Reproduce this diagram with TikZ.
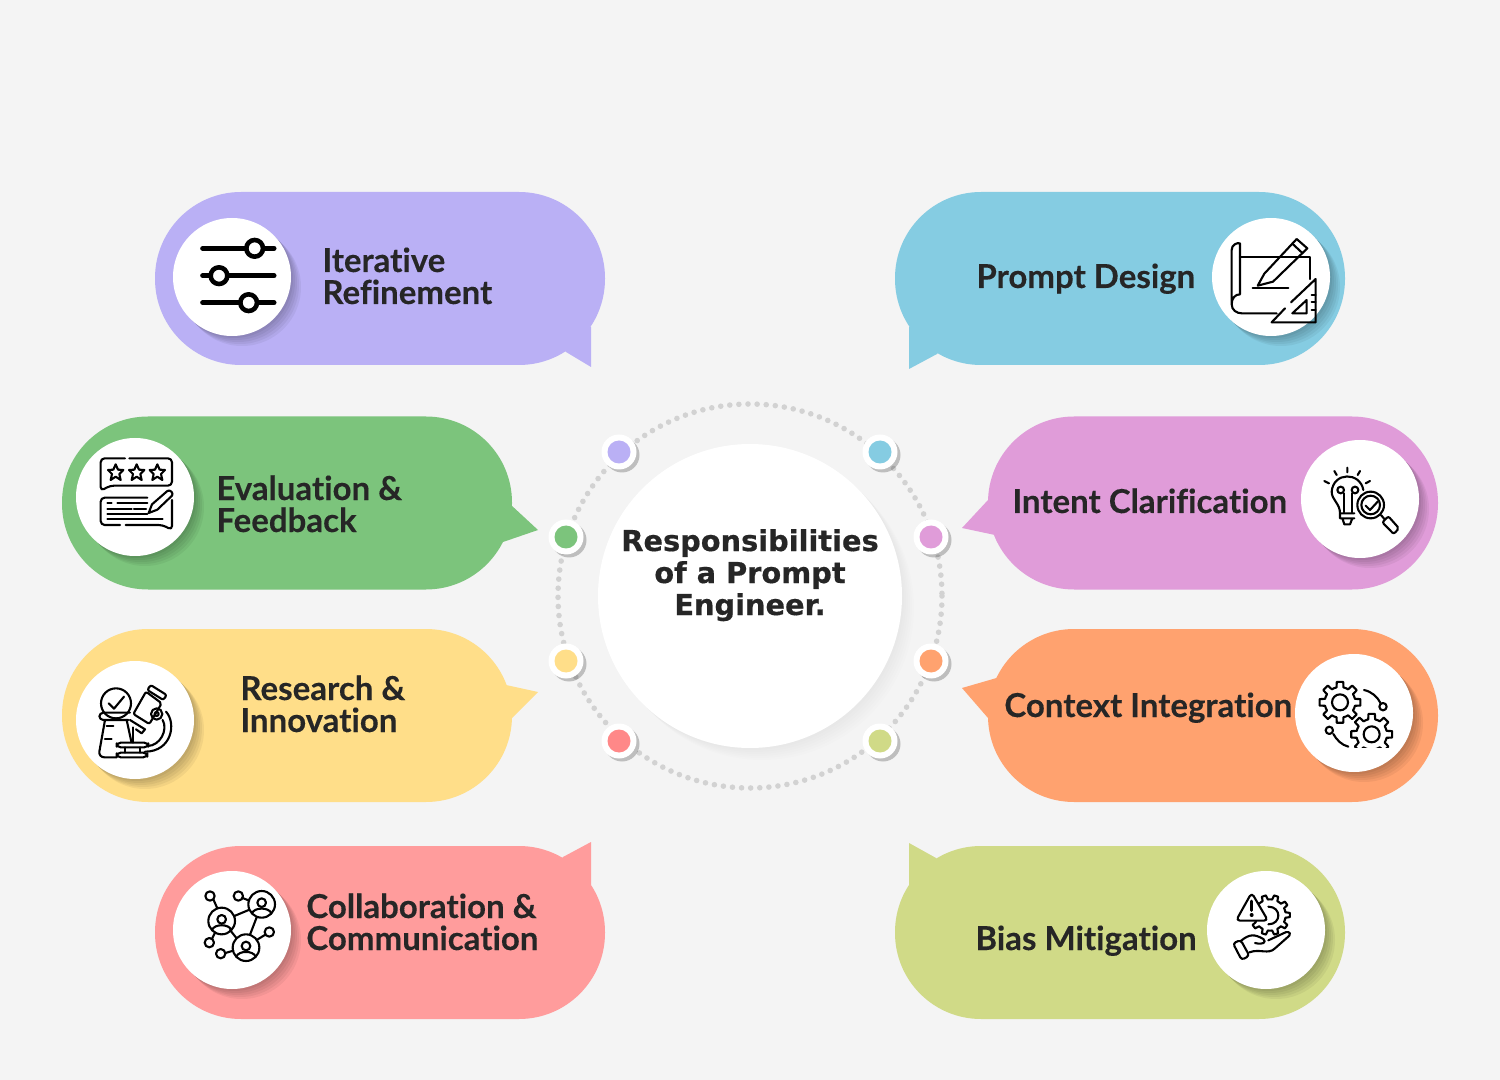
\documentclass[tikz,border=0pt]{standalone}
\usepackage{fontspec}
\usepackage{xcolor}
\usetikzlibrary{positioning}
\setmainfont{Lato}[Ligatures=CommonOff,BoldFeatures={FakeBold=0.25}]
\newfontfamily\titlefont{DejaVu Sans}[BoldFeatures={FakeBold=0.5}]
\definecolor{pagebg}{HTML}{F4F4F4}
\definecolor{inkc}{HTML}{262626}
\definecolor{ringc}{HTML}{D2D2D2}
\definecolor{lavc}{HTML}{BAB0F5}
\definecolor{skyc}{HTML}{85CCE2}
\definecolor{leafc}{HTML}{7CC47C}
\definecolor{mauvc}{HTML}{E09CD9}
\definecolor{sandc}{HTML}{FFDE89}
\definecolor{tangc}{HTML}{FFA26F}
\definecolor{rosec}{HTML}{FF9C9C}
\definecolor{redc}{HTML}{FF8888}
\definecolor{olivc}{HTML}{D0DA87}
\tikzset{
  softlayer/.style={preaction={fill=black,opacity=0.05,transform canvas={shift={(#1,-#1)}}}},
  bubble/.style={minimum width=225pt,minimum height=86.5pt,rounded corners=43pt,inner sep=0pt},
  bubbletext/.style={anchor=base west,inner sep=0pt,align=left,text=inkc,
    font=\fontsize{16.5}{16}\selectfont\bfseries},
  icondisc/.style={circle,fill=white,minimum size=59pt,inner sep=0pt,
    softlayer=1pt,softlayer=2pt,softlayer=3pt,softlayer=4pt,softlayer=5pt},
  ringdot/.style={circle,fill=white,minimum size=17.5pt,inner sep=0pt,
    preaction={fill=black,opacity=0.22,transform canvas={shift={(1.5pt,-1.5pt)}}}},
  ringcore/.style={circle,minimum size=11.5pt,inner sep=0pt},
  iconline/.style={draw=black,line width=1.05pt,line cap=round,line join=round},
  cropunits/.style={x=0.16667pt,y=-0.16667pt}
}
\newcommand{\gearoutline}[6]{% centre x, y, outer r, inner r, half tooth, teeth step
  \draw[iconline,fill=white] (#1,#2)+(-#6/2:#4)
    \foreach \a in {0,#6,...,359} {
      -- +(\a-#5-2:#4) -- +(\a-#5+2:#3) -- +(\a+#5-2:#3) -- +(\a+#5+2:#4) -- +(\a+#6/2:#4)
    } -- cycle;
}
\newcommand{\personmark}[2]{% centre of the big circle
  \draw[iconline] (#1,#2) circle (40);
  \draw[iconline] (#1,#2-5) circle (13);
  \draw[iconline] (#1-29,#2+27) .. controls (#1-22,#2+8) and (#1+22,#2+8) .. (#1+29,#2+27);
}
\begin{document}
\begin{tikzpicture}[x=0.5pt,y=-0.5pt]

\useasboundingbox (0,0) rectangle (1500,1080);
\fill[pagebg] (0,0) rectangle (1500,1080);

%% ── Ring and centre ──────────────────────────────────────────────────────────
\coordinate (hub) at (750,596);
\draw[ringc,line width=2.8pt,line cap=round,dash pattern=on 0pt off 4.56pt] (hub) circle (192);

\foreach \s in {1,2,...,6}
  \fill[black,opacity=0.007] (750+\s*2,596+\s*2) circle (152);
\node[circle,fill=white,minimum size=152pt,inner sep=0pt] (hubdisc) at (hub) {};
\node[anchor=base,inner sep=0pt,align=center,text=inkc,
  font=\titlefont\fontsize{14.4}{16}\selectfont\bfseries] (hubtext) at (750,615)
  {Responsibilities\\of a Prompt\\Engineer.};

\node[ringdot] (lavdot)  at (619,452) {};
\node[ringdot] (skydot)  at (880,452) {};
\node[ringdot] (leafdot) at (566,537) {};
\node[ringdot] (mauvdot) at (931,537) {};
\node[ringdot] (sanddot) at (566,661) {};
\node[ringdot] (tangdot) at (931,661) {};
\node[ringdot] (reddot)  at (619,741) {};
\node[ringdot] (olivdot) at (880,741) {};
\node[ringcore,fill=lavc]  at (lavdot)  {};
\node[ringcore,fill=skyc]  at (skydot)  {};
\node[ringcore,fill=leafc] at (leafdot) {};
\node[ringcore,fill=mauvc] at (mauvdot) {};
\node[ringcore,fill=sandc] at (sanddot) {};
\node[ringcore,fill=tangc] at (tangdot) {};
\node[ringcore,fill=redc]  at (reddot)  {};
\node[ringcore,fill=olivc] at (olivdot) {};

%% ── Bubbles ──────────────────────────────────────────────────────────────────
\node[bubble,fill=lavc]  (iterbox)   at (380,278.5)  {};
\node[bubble,fill=skyc]  (promptbox) at (1120,278.5) {};
\node[bubble,fill=leafc] (evalbox)   at (287,503)    {};
\node[bubble,fill=mauvc] (intentbox) at (1213,503)   {};
\node[bubble,fill=sandc] (resbox)    at (287,715.5)  {};
\node[bubble,fill=tangc] (ctxbox)    at (1213,715.5) {};
\node[bubble,fill=rosec] (collabbox) at (380,932.5)  {};
\node[bubble,fill=olivc] (biasbox)   at (1120,932.5) {};

\fill[lavc]  (591,327) -- (591,367) -- (566,352) -- (545,330) -- cycle;
\fill[skyc]  (909,327) -- (909,369) -- (937,354) -- (955,330) -- cycle;
\fill[leafc] (511,505) -- (538,530) -- (503,542) -- (480,520) -- cycle;
\fill[mauvc] (988,500) -- (962,528) -- (995,535) -- (1020,520) -- cycle;
\fill[sandc] (506,685) -- (538,692) -- (512,718) -- (480,700) -- cycle;
\fill[tangc] (1000,677) -- (962,688) -- (988,718) -- (1020,700) -- cycle;
\fill[rosec] (591,885) -- (591,842) -- (563,857) -- (545,880) -- cycle;
\fill[olivc] (909,885) -- (909,843) -- (936,858) -- (955,880) -- cycle;

\node[icondisc] (iterdisc)   at (232,277)  {};
\node[icondisc] (promptdisc) at (1271,277) {};
\node[icondisc] (evaldisc)   at (135,497)  {};
\node[icondisc] (intentdisc) at (1360,499) {};
\node[icondisc] (resdisc)    at (135,720)  {};
\node[icondisc] (ctxdisc)    at (1354,713) {};
\node[icondisc] (collabdisc) at (232,930)  {};
\node[icondisc] (biasdisc)   at (1266,930) {};

%% ── Labels ───────────────────────────────────────────────────────────────────
\node[bubbletext] (itertext)   at (322,304)  {Iterative\\Refinement};
\node[bubbletext] (prompttext) at (976,288)  {Prompt Design};
\node[bubbletext] (evaltext)   at (216,532)  {Evaluation \&\\Feedback};
\node[bubbletext] (intenttext) at (1012,513) {Intent Clarification};
\node[bubbletext] (restext)    at (240,732)  {Research \&\\Innovation};
\node[bubbletext] (ctxtext)    at (1004,717) {Context Integration};
\node[bubbletext] (collabtext) at (306,950)  {Collaboration \&\\Communication};
\node[bubbletext] (biastext)   at (975,950)  {Bias Mitigation};

%% ── Icon: sliders ────────────────────────────────────────────────────────────
\begin{scope}[shift={(150,190)},cropunits,iconline,line width=2.5pt]
  \draw (158,175) -- (372,175);
  \draw (158,257) -- (372,257);
  \draw (158,338) -- (372,338);
  \draw[fill=white,line width=2.3pt] (314,175) circle (25);
  \draw[fill=white,line width=2.3pt] (207,257) circle (25);
  \draw[fill=white,line width=2.3pt] (296,338) circle (25);
\end{scope}

%% ── Icon: rating cards ───────────────────────────────────────────────────────
\begin{scope}[shift={(60,415)},cropunits,iconline]
  \draw[rounded corners=2pt] (195,130) -- (122,130) -- (122,228) -- (150,212) -- (336,212) -- (336,130) -- (208,130);
  \draw[rounded corners=2pt] (180,330) -- (122,330) -- (122,248) -- (262,248);
  \draw[rounded corners=2pt] (197,330) -- (308,330) -- (336,345) -- (336,255);
  \foreach \x in {167,230,292}
    \draw (\x,148) -- (\x+7,164) -- (\x+23,165) -- (\x+11,177) -- (\x+15,195) -- (\x,185)
      -- (\x-15,195) -- (\x-11,177) -- (\x-23,165) -- (\x-7,164) -- cycle;
  \draw (266,294) -- (276,268) -- (322,228) .. controls (330,222) and (342,235) .. (336,242) -- (292,284) -- cycle;
  \draw (142,265) -- (155,265) (172,265) -- (262,265);
  \draw (142,281) -- (215,281) (222,281) -- (258,281);
  \draw (142,296) -- (262,296);
  \draw (142,311) -- (308,311);
\end{scope}

%% ── Icon: flask and microscope ───────────────────────────────────────────────
\begin{scope}[shift={(60,640)},cropunits,iconline]
  \draw (168,190) circle (45);
  \draw (146,190) -- (162,206) -- (192,170);
  \draw[rounded corners=2pt] (210,218) -- (118,218) -- (118,240) -- (205,240);
  \draw[rounded corners=3pt] (135,240) -- (115,352) -- (170,352);
  \draw (200,240) -- (214,305);
  \draw (140,258) -- (160,258) (135,298) -- (155,298);
  \draw[rounded corners=1pt] (258,155) -- (305,190) -- (268,252) -- (220,222) -- cycle;
  \draw[rounded corners=1pt] (272,135) -- (320,165) -- (310,180) -- (262,150) -- cycle;
  \draw (210,240) -- (255,268) -- (245,280) -- (228,268);
  \draw (290,222) circle (17) (290,222) circle (6);
  \draw (318,215) .. controls (350,250) and (335,335) .. (255,335);
  \draw (308,240) .. controls (325,270) and (300,318) .. (262,318);
  \draw (218,262) -- (218,308);
  \draw[rounded corners=2pt] (170,308) rectangle (265,322);
  \draw (195,322) -- (195,338) (240,322) -- (240,338);
  \draw[rounded corners=2pt] (170,338) rectangle (262,352);
\end{scope}

%% ── Icon: people network ─────────────────────────────────────────────────────
\begin{scope}[shift={(170,860)},cropunits,iconline]
  \personmark{155}{183}
  \personmark{275}{133}
  \personmark{228}{263}
  \draw (120,108) circle (14) (205,108) circle (14) (118,248) circle (14)
        (152,281) circle (14) (298,216) circle (14);
  \draw (130,118) -- (142,145);
  \draw (218,114) -- (238,122);
  \draw (126,236) -- (135,218);
  \draw (166,279) -- (190,272);
  \draw (286,224) -- (260,240);
  \draw (193,168) -- (236,150);
  \draw (180,210) -- (200,235);
  \draw (260,172) -- (240,224);
\end{scope}

%% ── Icon: blueprint ──────────────────────────────────────────────────────────
\begin{scope}[shift={(1205,215)},cropunits,iconline]
  \draw (80,268) -- (80,105) .. controls (80,90) and (95,82) .. (105,85) -- (105,238)
    .. controls (90,238) and (80,250) .. (80,268) .. controls (80,285) and (95,295) .. (110,295) -- (215,295);
  \draw (105,125) -- (315,125) -- (315,192);
  \draw (158,212) -- (178,176) -- (275,72) -- (307,100) -- (204,200) -- cycle;
  \draw (262,86) -- (292,114);
  \draw (143,218) -- (250,218);
  \draw (200,322) -- (332,322) -- (332,192) -- (258,262);
  \draw (240,280) -- (200,322);
  \draw (262,295) -- (305,295) -- (305,255) -- cycle;
  \draw (320,240) -- (332,240) (320,262) -- (332,262) (320,284) -- (332,284);
\end{scope}

%% ── Icon: bulb and lens ──────────────────────────────────────────────────────
\begin{scope}[shift={(1295,435)},cropunits,iconline]
  \draw (157,98) -- (157,112) (118,108) -- (125,120) (195,108) -- (188,120)
        (88,138) -- (102,145) (225,138) -- (212,145);
  \draw (205,165) .. controls (195,110) and (115,110) .. (110,170)
    .. controls (110,195) and (135,205) .. (135,235) -- (178,235);
  \draw (147,232) -- (147,175) (170,232) -- (170,175);
  \draw (137,165) circle (10) (180,165) circle (10);
  \draw (135,250) -- (178,250) (135,235) -- (135,250) (142,250) -- (148,268) -- (165,268) -- (172,250);
  \draw[fill=white] (227,210) circle (40);
  \draw (227,210) circle (28);
  \draw (212,212) -- (225,225) -- (248,200);
  \draw (258,240) -- (268,252);
  \draw[rounded corners=1pt] (262,262) -- (280,244) -- (312,280) -- (296,297) -- cycle;
\end{scope}

%% ── Icon: gears ──────────────────────────────────────────────────────────────
\begin{scope}[shift={(1290,650)},cropunits]
  \gearoutline{150}{157}{62}{46}{11}{45}
  \draw[iconline] (150,157) circle (24);
  \draw[iconline] (222,120) .. controls (245,125) and (262,140) .. (272,160);
  \draw[iconline] (279,170) circle (11);
  \draw[iconline] (118,241) circle (11);
  \draw[iconline] (130,252) .. controls (140,270) and (155,285) .. (175,290);
  \begin{scope}
    \clip (170,180) rectangle (320,291);
    \gearoutline{245}{253}{62}{46}{11}{45}
    \draw[iconline] (245,253) circle (24);
  \end{scope}
\end{scope}

%% ── Icon: warning and hand ───────────────────────────────────────────────────
\begin{scope}[shift={(1200,865)},cropunits]
  \gearoutline{210}{150}{60}{47}{8}{36}
  \draw[iconline] (205,125) .. controls (245,125) and (245,178) .. (205,178);
  \draw[iconline,fill=white,rounded corners=2pt] (155,83) -- (108,167) -- (204,167) -- cycle;
  \draw[iconline,line width=1.5pt] (155,108) -- (155,136);
  \fill[black] (155,150) circle (6);
  \draw[iconline,rounded corners=1.5pt] (99,235) -- (122,225) -- (148,272) -- (125,285) -- cycle;
  \draw[iconline] (122,228) .. controls (150,205) and (165,208) .. (190,222)
    .. controls (200,232) and (190,240) .. (165,234);
  \draw[iconline] (148,262) .. controls (180,250) and (205,270) .. (225,250)
    -- (268,212) .. controls (275,200) and (260,198) .. (250,205) -- (205,226);
\end{scope}

\end{tikzpicture}
\end{document}
